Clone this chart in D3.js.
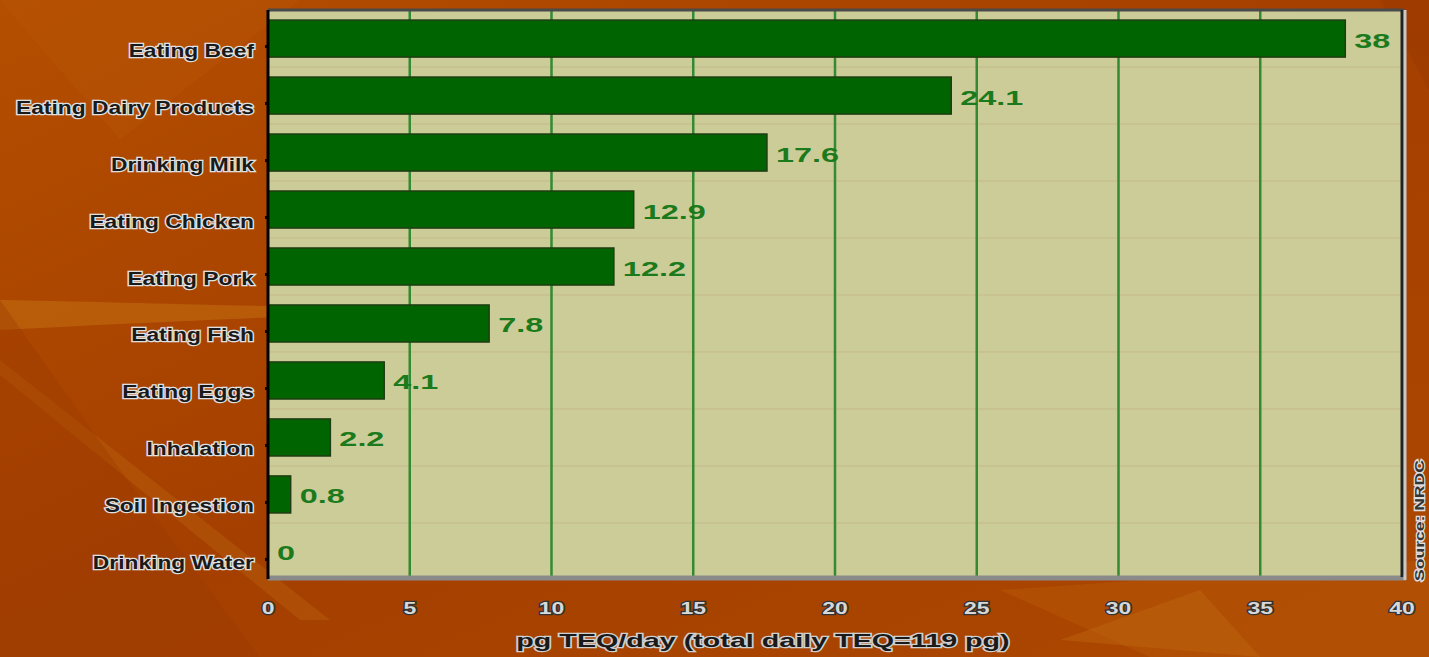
<!DOCTYPE html>
<html><head><meta charset="utf-8">
<script src="https://cdn.jsdelivr.net/npm/d3@7"></script>
<style>html,body{margin:0;padding:0;overflow:hidden;background:#a84200}</style>
</head><body>
<svg id="c" width="1429" height="657"></svg>
<script>
const categories = ["Eating Beef","Eating Dairy Products","Drinking Milk","Eating Chicken","Eating Pork","Eating Fish","Eating Eggs","Inhalation","Soil Ingestion","Drinking Water"];
const values = [38, 24.1, 17.6, 12.9, 12.2, 7.8, 4.1, 2.2, 0.8, 0];
const valueLabels = ["38","24.1","17.6","12.9","12.2","7.8","4.1","2.2","0.8","0"];
const xTicks = [0,5,10,15,20,25,30,35,40];
const xTitle = "pg TEQ/day (total daily TEQ=119 pg)";
const sourceText = "Source: NRDC";

const svg = d3.select("#c");
const W = 1429, H = 657;
const FONT = "Liberation Sans, Arial, sans-serif";
const defs = svg.append("defs");
const bg = defs.append("linearGradient").attr("id","bg").attr("x1","0").attr("y1","0").attr("x2","1").attr("y2","1");
bg.append("stop").attr("offset","0").attr("stop-color","#b44e00");
bg.append("stop").attr("offset","0.5").attr("stop-color","#a43f00");
bg.append("stop").attr("offset","1").attr("stop-color","#ac4800");
svg.append("rect").attr("width",W).attr("height",H).attr("fill","url(#bg)");
// decorative background swooshes
const deco = svg.append("g");
deco.append("path").attr("d","M0,300 L0,330 C150,322 260,318 300,316 L300,306 C220,306 120,302 0,300 Z").attr("fill","#c27010").attr("opacity",0.55);
deco.append("path").attr("d","M0,360 L0,375 L300,620 L330,620 Z").attr("fill","#c06a10").attr("opacity",0.35);
deco.append("path").attr("d","M0,300 L0,657 L260,657 L120,470 Z").attr("fill","#9a3800").attr("opacity",0.35);
deco.append("path").attr("d","M0,0 L300,0 L120,140 Z").attr("fill","#b85a08").attr("opacity",0.3);
deco.append("path").attr("d","M1000,590 L1429,560 L1429,657 L1150,657 Z").attr("fill","#b85a08").attr("opacity",0.45);
deco.append("path").attr("d","M1060,640 L1200,590 L1260,657 Z").attr("fill","#c06a10").attr("opacity",0.4);
deco.append("path").attr("d","M1380,0 L1429,0 L1429,90 Z").attr("fill","#9a3800").attr("opacity",0.5);

const pL = 268, pR = 1402, pT = 10, pB = 577;
const x = d3.scaleLinear().domain([0,40]).range([pL,pR]);
const y = d3.scaleBand().domain(categories).range([11.5,578.5]).paddingInner(0.35).paddingOuter(0.15);

// plot background
svg.append("rect").attr("x",pL).attr("y",pT).attr("width",pR-pL).attr("height",pB-pT).attr("fill","#cccc99");

// faint band separators
const step = y.step();
svg.append("g").selectAll("line").data(categories.slice(1)).join("line")
  .attr("x1",pL).attr("x2",pR)
  .attr("y1",d=>y(d)-y.paddingInner()*step/2).attr("y2",d=>y(d)-y.paddingInner()*step/2)
  .attr("stroke","#b89a70").attr("stroke-width",1).attr("opacity",0.35);

// gridlines
svg.append("g").selectAll("line").data(xTicks.slice(1,-1)).join("line")
  .attr("x1",d=>x(d)).attr("x2",d=>x(d)).attr("y1",pT).attr("y2",pB)
  .attr("stroke","#338a33").attr("stroke-width",2.5);

// bars
svg.append("g").selectAll("rect").data(categories).join("rect")
  .attr("x",x(0)).attr("y",d=>y(d)).attr("height",y.bandwidth())
  .attr("width",(d,i)=>x(values[i])-x(0))
  .attr("fill","#006400").attr("stroke","#1f3d12").attr("stroke-width",1.5);

// value labels (horizontally stretched like the original)
svg.append("g").selectAll("text").data(categories).join("text")
  .attr("transform",(d,i)=>`translate(${x(values[i])+9},${y(d)+y.bandwidth()/2+9}) scale(1.62,1)`)
  .attr("font-family",FONT).attr("font-weight","bold").attr("font-size",20)
  .attr("fill","#1b7a1b").text((d,i)=>valueLabels[i]);

// frame
svg.append("line").attr("x1",pL).attr("x2",pR+2).attr("y1",pT).attr("y2",pT).attr("stroke","#4a4a4a").attr("stroke-width",3);
svg.append("line").attr("x1",pL).attr("x2",pR+4).attr("y1",pB+1).attr("y2",pB+1).attr("stroke","#8a8a8a").attr("stroke-width",5);
svg.append("line").attr("x1",pR).attr("x2",pR).attr("y1",pT).attr("y2",pB).attr("stroke","#222").attr("stroke-width",3);
svg.append("line").attr("x1",pR+3).attr("x2",pR+3).attr("y1",pT).attr("y2",pB+3).attr("stroke","#c8c8c8").attr("stroke-width",3);

// y axis line
svg.append("line").attr("x1",pL).attr("x2",pL).attr("y1",pT).attr("y2",pB+2).attr("stroke","#000").attr("stroke-width",3);
// y axis ticks (offset slightly below bar centres as in the original)
const yAxis = svg.append("g").attr("transform",`translate(${pL},8)`)
  .call(d3.axisLeft(y).tickSize(3).tickFormat(""));
yAxis.select(".domain").remove();
yAxis.selectAll(".tick line").attr("stroke","#000").attr("stroke-width",3);
svg.append("g").selectAll("text").data(categories).join("text")
  .attr("transform",d=>`translate(${pL-14},${y(d)+y.bandwidth()/2+18}) scale(1.2,1)`)
  .attr("text-anchor","end")
  .attr("font-family",FONT).attr("font-weight","bold").attr("font-size",19)
  .attr("fill","#1a1a1a").attr("stroke","#e0e0e0").attr("stroke-width",2.5).attr("paint-order","stroke")
  .text(d=>d);

// x axis labels (positions from scale, stretched)
svg.append("g").selectAll("text").data(xTicks).join("text")
  .attr("transform",d=>`translate(${x(d)},${614}) scale(1.35,1)`)
  .attr("text-anchor","middle")
  .attr("font-family",FONT).attr("font-weight","bold").attr("font-size",17)
  .attr("fill","#d8d8d8").attr("stroke","#333").attr("stroke-width",2.5).attr("paint-order","stroke")
  .text(d=>d);

// x title
svg.append("text").attr("transform","translate(763,647) scale(1.51,1)").attr("text-anchor","middle")
  .attr("font-family",FONT).attr("font-weight","bold").attr("font-size",19)
  .attr("fill","#1a1a1a").attr("stroke","#d0d0d0").attr("stroke-width",2.5).attr("paint-order","stroke")
  .text(xTitle);

// source
svg.append("text").attr("transform","translate(1424,581) rotate(-90) scale(1.35,1)")
  .attr("font-family",FONT).attr("font-size",13).attr("font-weight","bold")
  .attr("fill","#333").attr("stroke","#ddd").attr("stroke-width",2.5).attr("paint-order","stroke")
  .text(sourceText);
</script>
</body></html>
